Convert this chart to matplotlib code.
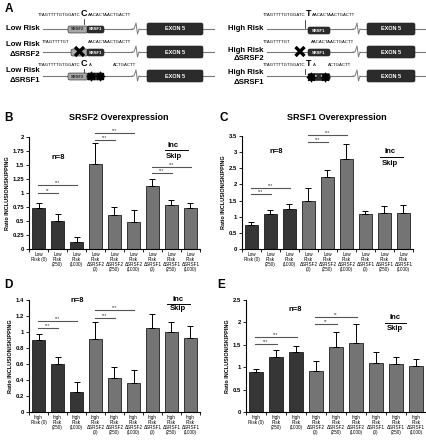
import matplotlib
matplotlib.use("Agg")
import matplotlib.pyplot as plt
from matplotlib.patches import FancyBboxPatch
import numpy as np

plt.rcParams['font.family'] = ['Liberation Sans', 'DejaVu Sans']
plt.rcParams['font.weight'] = 'bold'

# ---- data ----
low_labels = ["Low\nRisk (0)", "Low\nRisk\n(250)", "Low\nRisk\n(1000)",
              "Low\nRisk\nΔSRSF2\n(0)", "Low\nRisk\nΔSRSF2\n(250)", "Low\nRisk\nΔSRSF2\n(1000)",
              "Low\nRisk\nΔSRSF1\n(0)", "Low\nRisk\nΔSRSF1\n(250)", "Low\nRisk\nΔSRSF1\n(1000)"]
high_labels = ["high\nRisk (0)", "high\nRisk\n(250)", "high\nRisk\n(1000)",
               "high\nRisk\nΔSRSF2\n(0)", "high\nRisk\nΔSRSF2\n(250)", "high\nRisk\nΔSRSF2\n(1000)",
               "high\nRisk\nΔSRSF1\n(0)", "high\nRisk\nΔSRSF1\n(250)", "high\nRisk\nΔSRSF1\n(1000)"]

b_vals = [0.74, 0.50, 0.13, 1.52, 0.61, 0.49, 1.12, 0.79, 0.73]
b_errs = [0.09, 0.12, 0.09, 0.38, 0.14, 0.21, 0.13, 0.09, 0.09]
c_vals = [0.73, 1.09, 1.25, 1.50, 2.24, 2.78, 1.08, 1.10, 1.10]
c_errs = [0.10, 0.12, 0.13, 0.38, 0.22, 0.46, 0.10, 0.22, 0.25]
d_vals = [0.90, 0.60, 0.25, 0.91, 0.43, 0.36, 1.05, 1.00, 0.92]
d_errs = [0.07, 0.09, 0.13, 0.21, 0.13, 0.17, 0.17, 0.12, 0.16]
e_vals = [0.90, 1.23, 1.34, 0.91, 1.46, 1.55, 1.10, 1.07, 1.03]
e_errs = [0.07, 0.16, 0.14, 0.22, 0.32, 0.42, 0.23, 0.16, 0.15]

b_sig = [(0, 1, 1.00, "**"), (0, 2, 1.15, "***"), (3, 4, 1.95, "***"),
         (3, 5, 2.07, "***"), (6, 7, 1.36, "***"), (6, 8, 1.46, "***")]
c_sig = [(0, 1, 1.71, "***"), (0, 2, 1.89, "***"), (3, 4, 3.30, "***"), (3, 5, 3.54, "***")]
d_sig = [(0, 1, 1.05, "***"), (0, 2, 1.14, "***"), (3, 4, 1.18, "***"), (3, 5, 1.28, "***")]
e_sig = [(0, 1, 1.51, "***"), (0, 2, 1.68, "***"), (3, 4, 1.96, "**"), (3, 5, 2.11, "**")]

b_ticks = ["0", "0.25", "0.5", "0.75", "1", "1.25", "1.5", "1.75", "2"]
c_ticks = ["0", "0.5", "1", "1.5", "2", "2.5", "3", "3.5"]
d_ticks = ["0", "0.2", "0.4", "0.6", "0.8", "1", "1.2", "1.4"]
e_ticks = ["0", "0.5", "1", "1.5", "2", "2.5"]

DARK = "#363636"
GRAY = "#747474"
W, H = 427, 440

fig = plt.figure(figsize=(W / 100, H / 100), dpi=100)

ov = fig.add_axes([0, 0, 1, 1])
ov.set_xlim(0, W)
ov.set_ylim(H, 0)
ov.axis('off')


def panel(rect, vals, errs, ticks, xlabels, sig, npos, incpos):
    l, r, y0, y1 = rect
    ax = fig.add_axes([l / W, (H - y0) / H, (r - l) / W, (y0 - y1) / H])
    x = np.arange(len(vals))
    colors = [DARK] * 3 + [GRAY] * 6
    ax.bar(x, vals, width=0.68, color=colors, edgecolor='black', linewidth=0.5, zorder=2)
    ax.errorbar(x, vals, yerr=[np.zeros(len(errs)), errs], fmt='none', ecolor='black',
                elinewidth=0.7, capsize=2.3, capthick=0.7, zorder=3)
    tv = [float(t) for t in ticks]
    ax.set_ylim(0, tv[-1])
    ax.set_xlim(-0.5, len(vals) - 0.5)
    ax.set_yticks(tv)
    ax.set_yticklabels(ticks, fontsize=4.3, fontweight='bold')
    ax.set_xticks(x)
    ax.set_xticklabels(xlabels, fontsize=3.3, fontweight='normal', linespacing=1.05,
                       va='top')
    ax.set_xticks(np.arange(-0.5, len(vals)), minor=True)
    ax.tick_params(axis='x', which='major', length=0, pad=2)
    ax.tick_params(axis='x', which='minor', length=2, width=0.6)
    ax.tick_params(axis='y', length=2, width=0.6, pad=1.5)
    for s in ['top', 'right']:
        ax.spines[s].set_visible(False)
    for s in ['left', 'bottom']:
        ax.spines[s].set_linewidth(0.8)
    ax.set_ylabel("Ratio INCLUSION/SKIPPING", fontsize=4, fontweight='bold', labelpad=2)
    for i, j, y, t in sig:
        ax.plot([i - 0.05, j + 0.05], [y, y], color='#555555', lw=0.8, clip_on=False)
        ax.text((i + j) / 2, y, t, ha='center', va='bottom', fontsize=3.3,
                fontweight='normal', color='#333333', clip_on=False)
    ax.text(npos[0], npos[1], "n=8", ha='center', va='center', fontsize=5.5,
            fontweight='bold')
    ix, iy, sy, lx0, lx1, ly = incpos
    ax.text(ix, iy, "Inc", ha='center', va='center', fontsize=5.5, fontweight='bold')
    ax.text(ix, sy, "Skip", ha='center', va='center', fontsize=5.5, fontweight='bold')
    ax.plot([lx0, lx1], [ly, ly], color='black', lw=0.7, clip_on=False)
    return ax


panel((29, 200, 249, 137), b_vals, b_errs, b_ticks, low_labels, b_sig,
      (1.03, 1.64), (7.1, 1.84, 1.66, 6.65, 7.85, 1.76))
panel((242, 413, 249, 136), c_vals, c_errs, c_ticks, low_labels, c_sig,
      (1.3, 3.02), (7.3, 3.02, 2.65, 6.75, 7.95, 2.84))
panel((29, 200, 412, 300), d_vals, d_errs, d_ticks, high_labels, d_sig,
      (2.03, 1.40), (7.35, 1.41, 1.29, 6.75, 7.95, 1.35))
panel((246, 426, 412, 300), e_vals, e_errs, e_ticks, high_labels, e_sig,
      (1.95, 2.28), (6.95, 2.12, 1.86, 6.45, 7.5, 1.99))

# ---- panel letters and titles ----
for lt, px, py in [("A", 9, 9), ("B", 9, 118), ("C", 224, 118), ("D", 8, 285), ("E", 221, 285)]:
    ov.text(px, py, lt, fontsize=8.5, fontweight='bold', ha='center', va='center')
ov.text(119, 118, "SRSF2 Overexpression", fontsize=6.5, fontweight='bold', ha='center', va='center')
ov.text(337, 118, "SRSF1 Overexpression", fontsize=6.5, fontweight='bold', ha='center', va='center')

# ---- panel A diagrams ----
LINE = "#7a7a7a"
LAB = 5.6


def box(x0, x1, yc, h, fc, label, tc, fs=3.2):
    p = FancyBboxPatch((x0, yc - h / 2), x1 - x0, h,
                       boxstyle="round,pad=0,rounding_size=1.8",
                       fc=fc, ec='#222222', lw=0.4, zorder=3)
    ov.add_patch(p)
    if label:
        ov.text((x0 + x1) / 2, yc, label, ha='center', va='center', fontsize=fs,
                color=tc, fontweight='bold', zorder=4)


def zigzag(x, y):
    ov.plot([x - 3, x - 1, x + 1, x + 2.5, x + 4], [y, y, y - 6, y + 5, y],
            color=LINE, lw=0.7, zorder=2)


def gene_row(y, xstart, zig, ex0, ex1, xr):
    ov.plot([xstart, zig - 3], [y, y], color=LINE, lw=0.8, zorder=1)
    zigzag(zig, y)
    ov.plot([zig + 4, ex0], [y, y], color=LINE, lw=0.8, zorder=1)
    ov.plot([ex1, xr], [y, y], color=LINE, lw=0.8, zorder=1)
    box(ex0, ex1, y, 12, '#2b2b2b', "EXON 5", 'white', fs=4)


def big_x(x, y, s=4.5):
    ov.plot([x - s, x + s], [y - s, y + s], color='black', lw=2.4, zorder=5,
            solid_capstyle='butt')
    ov.plot([x - s, x + s], [y + s, y - s], color='black', lw=2.4, zorder=5,
            solid_capstyle='butt')


def stars(xs, y):
    ov.scatter(xs, [y] * len(xs), marker=(8, 1, 0), s=38, color='black', zorder=6)


SEQ = 3.1

# left side: low risk
ov.text(40, 29, "Low Risk", ha='right', va='center', fontsize=LAB, fontweight='bold')
gene_row(29, 43, 135, 147, 203, 214)
box(68, 88, 29.5, 7, '#a8a8a8', "SRSF2", '#222222', fs=3)
box(87, 104, 29.5, 7, '#2b2b2b', "SRSF1", 'white', fs=3)
ov.text(81, 15, "TTAGTTTTGTGGATC", ha='right', va='center', fontsize=SEQ, fontweight='normal')
ov.text(84, 13.5, "C", ha='center', va='center', fontsize=6.5, fontweight='bold')
ov.text(88, 15, "AACACTAACTGACTT", ha='left', va='center', fontsize=SEQ, fontweight='normal')
ov.plot([84, 84], [19.5, 24], color='black', lw=0.5)

ov.text(40, 45, "Low Risk", ha='right', va='center', fontsize=LAB, fontweight='bold')
ov.text(40, 54, "ΔSRSF2", ha='right', va='center', fontsize=LAB, fontweight='bold')
gene_row(52, 43, 135, 147, 203, 214)
box(71, 88, 52.5, 7, '#a8a8a8', "S", '#222222', fs=3)
box(87, 104, 52.5, 7, '#2b2b2b', "SRSF1", 'white', fs=3)
big_x(79.5, 51.5)
ov.text(42, 42, "TTAGTTTTGT", ha='left', va='center', fontsize=SEQ, fontweight='normal')
ov.text(88, 42, "AACACTAACTGACTT", ha='left', va='center', fontsize=SEQ, fontweight='normal')

ov.text(40, 71, "Low Risk", ha='right', va='center', fontsize=LAB, fontweight='bold')
ov.text(40, 80, "ΔSRSF1", ha='right', va='center', fontsize=LAB, fontweight='bold')
gene_row(76, 43, 135, 147, 203, 214)
box(68, 88, 76.5, 7, '#a8a8a8', "SRSF2", '#222222', fs=3)
box(87, 104, 76.5, 7, '#2b2b2b', "SF   F1", 'white', fs=3)
stars([91, 100], 76.5)
ov.text(81, 65, "TTAGTTTTGTGGATC", ha='right', va='center', fontsize=SEQ, fontweight='normal')
ov.text(84, 63.5, "C", ha='center', va='center', fontsize=6.5, fontweight='bold')
ov.text(89, 65, "A", ha='left', va='center', fontsize=SEQ, fontweight='normal')
ov.text(113, 65, "ACTGACTT", ha='left', va='center', fontsize=SEQ, fontweight='normal')
ov.plot([84, 84], [69.5, 73], color='black', lw=0.5)

# right side: high risk
ov.text(264, 29, "High Risk", ha='right', va='center', fontsize=LAB, fontweight='bold')
gene_row(29, 267, 356, 367, 415, 427)
box(308, 330, 30.5, 7, '#2b2b2b', "SRSF1", 'white', fs=3)
ov.text(306, 15, "TTAGTTTTGTGGATC", ha='right', va='center', fontsize=SEQ, fontweight='normal')
ov.text(308.5, 13.5, "T", ha='center', va='center', fontsize=6.5, fontweight='bold')
ov.text(312, 15, "AACACTAACTGACTT", ha='left', va='center', fontsize=SEQ, fontweight='normal')
ov.plot([305, 305], [20, 28], color='black', lw=0.5)

ov.text(264, 50, "High Risk", ha='right', va='center', fontsize=LAB, fontweight='bold')
ov.text(264, 59, "ΔSRSF2", ha='right', va='center', fontsize=LAB, fontweight='bold')
gene_row(52, 267, 356, 367, 415, 427)
box(308, 330, 52.5, 7, '#2b2b2b', "SRSF1", 'white', fs=3)
big_x(300, 51.5)
ov.text(263, 42, "TTAGTTTTGT", ha='left', va='center', fontsize=SEQ, fontweight='normal')
ov.text(311, 42, "AACACTAACTGACTT", ha='left', va='center', fontsize=SEQ, fontweight='normal')

ov.text(264, 73, "High Risk", ha='right', va='center', fontsize=LAB, fontweight='bold')
ov.text(264, 82, "ΔSRSF1", ha='right', va='center', fontsize=LAB, fontweight='bold')
gene_row(76, 267, 356, 367, 415, 427)
box(308, 330, 77, 7, '#2b2b2b', "SF   F1", 'white', fs=3)
stars([311, 325], 77)
ov.text(306, 65, "TTAGTTTTGTGGATC", ha='right', va='center', fontsize=SEQ, fontweight='normal')
ov.text(308.5, 63.5, "T", ha='center', va='center', fontsize=6.5, fontweight='bold')
ov.text(313, 65, "A", ha='left', va='center', fontsize=SEQ, fontweight='normal')
ov.text(328, 65, "ACTGACTT", ha='left', va='center', fontsize=SEQ, fontweight='normal')
ov.plot([305, 305], [69.5, 74], color='black', lw=0.5)

fig.savefig("out.png", dpi=100)
